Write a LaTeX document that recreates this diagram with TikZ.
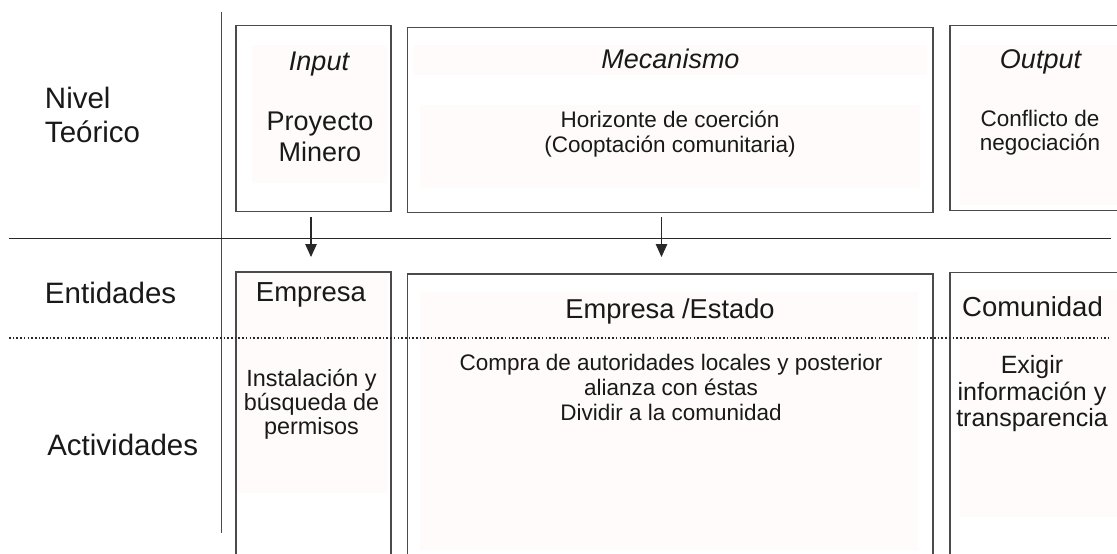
\documentclass[tikz,border=0pt]{standalone}
\usepackage{fontspec}
\setmainfont{Liberation Sans}
\usetikzlibrary{arrows.meta}
\definecolor{fillc}{RGB}{254,251,250}
\definecolor{boxc}{RGB}{75,75,75}
\definecolor{linec}{RGB}{40,40,40}
\definecolor{txtc}{RGB}{25,25,25}
\newcommand{\fs}[2]{\fontsize{#1}{#2}\selectfont}
\begin{document}
\begin{tikzpicture}[x=1pt,y=-1pt,
  box/.style={draw=boxc,line width=1.3pt,rectangle,inner sep=0pt,outer sep=0pt,anchor=north west},
  tint/.style={fill=fillc,draw=none},
  lbl/.style={text=txtc,inner sep=0pt,outer sep=0pt},
  biglbl/.style={lbl,font=\fs{29.5}{34.4}},
  ttl/.style={lbl,font=\fs{27}{30.6}\itshape},
  arr/.style={draw=linec,line width=1.2pt,-{Triangle[width=11.5pt,length=13pt]}}
]
\useasboundingbox (0,0) rectangle (1117,554);
\clip (0,0) rectangle (1117,554);
\fill[white] (0,0) rectangle (1117,554);

% faint tints
\fill[tint] (252,45) rectangle (387,183);
\fill[tint] (413,45) rectangle (927,75);
\fill[tint] (420,105) rectangle (920,188);
\fill[tint] (960,45) rectangle (1117,205);
\fill[tint] (236,273) rectangle (387,493);
\fill[tint] (420,292) rectangle (918,550);
\fill[tint] (960,290) rectangle (1117,517);

% boxes
\node[box,minimum width=155,minimum height=186] (inbox) at (236,25.7) {};
\node[box,minimum width=525.3,minimum height=185] (mecbox) at (407.7,27.7) {};
\node[box,minimum width=180,minimum height=185] (outbox) at (950,25.7) {};
\node[box,minimum width=155,minimum height=300] (empbox) at (236,272) {};
\node[box,minimum width=525.3,minimum height=300] (eebox) at (407.7,274) {};
\node[box,minimum width=180,minimum height=300] (combox) at (950,272.7) {};

% separators
\coordinate (vtop) at (221.5,11.7);
\coordinate (vbot) at (221.5,533);
\draw[draw=boxc,line width=1.2pt] (vtop) -- (vbot);
\coordinate (hl) at (9,238.3);
\coordinate (hr) at (1111,238.3);
\draw[draw=linec,line width=1.2pt] (hl) -- (hr);
\coordinate (dl) at (9,337.5);
\coordinate (dr) at (1108,337.5);
\draw[draw=linec,line width=2pt,dash pattern=on 1.6pt off 2.1pt] (dl) -- (dr);

% arrows
\coordinate (a1s) at (311,217);
\coordinate (a1e) at (311,257);
\coordinate (a2s) at (661.5,217);
\coordinate (a2e) at (661.5,257);
\draw[arr] (a1s) -- (a1e);
\draw[arr] (a2s) -- (a2e);

% left labels
\node[biglbl,anchor=north west,align=left] (nivel) at (45,87.1) {Nivel\\Teórico};
\node[biglbl,anchor=base west] (ent) at (45,303.3) {Entidades};
\node[biglbl,anchor=base west] (act) at (47.3,455) {Actividades};

% top row
\node[ttl,anchor=base] (input) at (319,70) {Input};
\node[lbl,font=\fs{27}{30.6},anchor=north,align=center] (proy) at (320,112.3) {Proyecto\\Minero};
\node[ttl,anchor=base] (mec) at (670.5,68.5) {Mecanismo};
\node[lbl,font=\fs{22.5}{24.4},anchor=north,align=center] (hor) at (670,111.1) {Horizonte de coerción\\(Cooptación comunitaria)};
\node[ttl,anchor=base] (outp) at (1040.5,68.3) {Output};
\node[lbl,font=\fs{22.5}{24},anchor=north,align=center] (conf) at (1040,110.5) {Conflicto de\\negociación};

% lower row
\node[lbl,font=\fs{27.5}{30},anchor=base] (emp) at (311,301.7) {Empresa};
\node[lbl,font=\fs{27.3}{30},anchor=base] (empest) at (670,318.3) {Empresa /Estado};
\node[lbl,font=\fs{27.5}{30},anchor=base] (com) at (1032.5,316.7) {Comunidad};
\node[lbl,font=\fs{23.4}{24},anchor=north,align=center] (inst) at (311.5,369.2) {Instalación y\\búsqueda de\\permisos};
\node[lbl,font=\fs{22.5}{25},anchor=north,align=center] (compra) at (671,353.8) {Compra de autoridades locales y posterior\\alianza con éstas\\Dividir a la comunidad};
\node[lbl,font=\fs{25}{26.7},anchor=north,align=center] (exig) at (1032,355.2) {Exigir\\información y\\transparencia};
\end{tikzpicture}
\end{document}
